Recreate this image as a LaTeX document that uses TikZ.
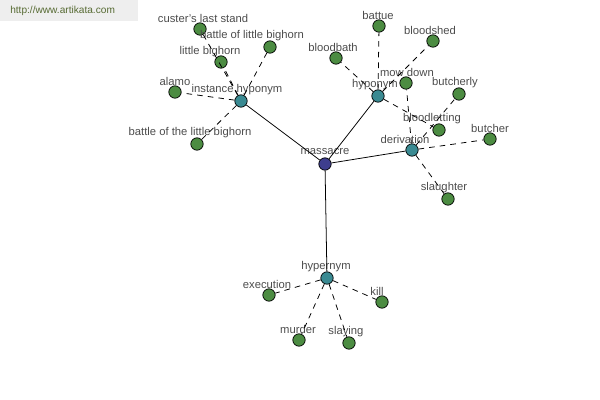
\documentclass[tikz,border=0pt]{standalone}
\usepackage{fontspec}
\setmainfont{Liberation Sans}
\usepackage{tikz}
\usetikzlibrary{positioning}
\usepackage{xcolor}
\definecolor{leafgreen}{RGB}{76,140,66}
\definecolor{relteal}{RGB}{58,138,146}
\definecolor{rootblue}{RGB}{62,62,142}
\definecolor{bannergray}{RGB}{238,238,238}
\definecolor{bannertext}{RGB}{86,106,50}
\tikzset{
  leaf/.style={circle, draw=black, fill=leafgreen, line width=0.5pt, inner sep=0pt, minimum size=3.1mm},
  relnode/.style={leaf, fill=relteal},
  rootnode/.style={leaf, fill=rootblue},
  wordlabel/.style={text=black!70, inner sep=0pt},
  rel/.style={black, line width=0.55pt},
  sub/.style={black, line width=0.55pt, dash pattern=on 4pt off 3.6pt}
}

\begin{document}
\begin{tikzpicture}[x=0.025cm, y=-0.025cm, font=\fontsize{8}{9.5}\selectfont]
  \useasboundingbox (0,0) rectangle (600,400);
  \fill[bannergray] (0,0) rectangle (138,21);
  \node[text=bannertext, font=\fontsize{7.2}{9}\selectfont, anchor=west, inner sep=0pt] (site) at (10,10.5) {http://www.artikata.com};

  % the word itself and its four relations
  \node[rootnode] (massacre) at (325,164) {};
  \node[relnode] (insthypo) at (241,101) {};
  \node[relnode] (hypo) at (378,96) {};
  \node[relnode] (deriv) at (412,150) {};
  \node[relnode] (hyper) at (327,278) {};

  \node[leaf] (custer) at (200,29) {};
  \node[leaf] (battleof) at (270,47) {};
  \node[leaf] (littlebig) at (221,62) {};
  \node[leaf] (alamo) at (175,92) {};
  \node[leaf] (battlethe) at (197,144) {};

  \node[leaf] (battue) at (379,26) {};
  \node[leaf] (bloodshed) at (433,41) {};
  \node[leaf] (bloodbath) at (336,58) {};
  \node[leaf] (bloodlet) at (439,130) {};

  \node[leaf] (mowdown) at (406,83) {};
  \node[leaf] (butcherly) at (459,94) {};
  \node[leaf] (butcher) at (490,139) {};
  \node[leaf] (slaughter) at (448,199) {};

  \node[leaf] (execution) at (269,295) {};
  \node[leaf] (kill) at (382,302) {};
  \node[leaf] (murder) at (299,340) {};
  \node[leaf] (slaying) at (349,343) {};

  \node[wordlabel] (l-massacre) at (325,152) {massacre};
  \node[wordlabel] (l-insthypo) at (237,90) {instance hyponym};
  \node[wordlabel] (l-hypo) at (375,85) {hyponym};
  \node[wordlabel] (l-deriv) at (405,139) {derivation};
  \node[wordlabel] (l-hyper) at (326,267) {hypernym};
  \node[wordlabel] (l-custer) at (203,18) {custer's last stand};
  \node[wordlabel] (l-battleof) at (252,36) {battle of little bighorn};
  \node[wordlabel] (l-littlebig) at (210,52) {little bighorn};
  \node[wordlabel] (l-alamo) at (175,81) {alamo};
  \node[wordlabel] (l-battlethe) at (190,133) {battle of the little bighorn};
  \node[wordlabel] (l-battue) at (378,15) {battue};
  \node[wordlabel] (l-bloodshed) at (430,30) {bloodshed};
  \node[wordlabel] (l-bloodbath) at (333,47) {bloodbath};
  \node[wordlabel] (l-bloodlet) at (432,119) {bloodletting};
  \node[wordlabel] (l-mowdown) at (407,72) {mow down};
  \node[wordlabel] (l-butcherly) at (455,83) {butcherly};
  \node[wordlabel] (l-butcher) at (490,128) {butcher};
  \node[wordlabel] (l-slaughter) at (444,188) {slaughter};
  \node[wordlabel] (l-execution) at (267,284) {execution};
  \node[wordlabel] (l-kill) at (377,291) {kill};
  \node[wordlabel] (l-murder) at (298,329) {murder};
  \node[wordlabel] (l-slaying) at (346,332) {slaying};

  \foreach \r in {insthypo, hypo, deriv, hyper}
    \draw[rel] (massacre) -- (\r);
  \foreach \w in {custer, battleof, littlebig, alamo, battlethe}
    \draw[sub] (insthypo) -- (\w);
  \foreach \w in {battue, bloodshed, bloodbath, bloodlet}
    \draw[sub] (hypo) -- (\w);
  \foreach \w in {mowdown, butcherly, butcher, slaughter}
    \draw[sub] (deriv) -- (\w);
  \foreach \w in {execution, kill, murder, slaying}
    \draw[sub] (hyper) -- (\w);
\end{tikzpicture}
\end{document}
